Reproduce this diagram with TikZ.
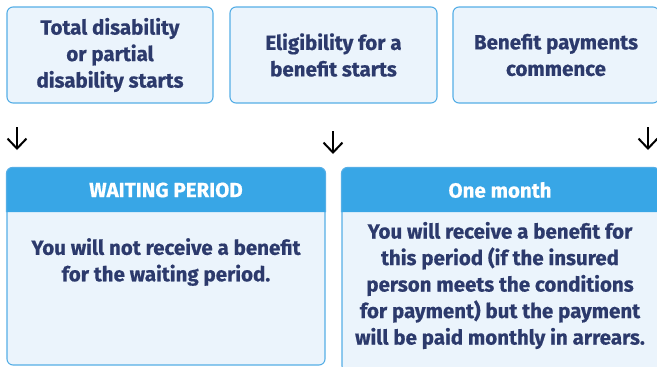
\documentclass[tikz,border=0pt]{standalone}
\usepackage{fontspec}
\setmainfont{Fira Sans}[BoldFeatures={FakeBold=0.6}]
\usetikzlibrary{arrows.meta}
\definecolor{boxfill}{HTML}{EBF4FC}
\definecolor{boxline}{HTML}{55AEE6}
\definecolor{hdrfill}{HTML}{38A6E6}
\definecolor{navy}{HTML}{2C3A6C}
\begin{document}
\begin{tikzpicture}[x=1pt,y=-1pt,
  txt/.style={font=\fontsize{20.5}{26.5}\selectfont\bfseries, text=navy, align=center},
  topbox/.style={draw=boxline, fill=boxfill, line width=1.1pt, rounded corners=6pt,
     minimum height=96pt, inner sep=0pt, txt},
  botbox/.style={draw=boxline, fill=boxfill, line width=1.1pt, rounded corners=6pt, inner sep=0pt},
  hdrtxt/.style={font=\fontsize{20.5}{26}\selectfont\bfseries, text=white},
  arr/.style={-{Straight Barb[length=10pt,width=19pt,line width=2pt]}, line width=2pt, black}]
\useasboundingbox (0,0) rectangle (657,367);
% top boxes
\node[topbox, minimum width=206pt] (t1) at (110,55) {Total disability\\or partial\\disability starts};
\node[topbox, minimum width=207pt] (t2) at (333.5,55) {Eligibility for a\\benefit starts};
\node[topbox, minimum width=206pt] (t3) at (556,55) {Benefit payments\\commence};
% arrows
\coordinate (a1s) at (17,127); \coordinate (a1e) at (17,150);
\coordinate (a2s) at (333,131); \coordinate (a2e) at (333,154);
\coordinate (a3s) at (648,127); \coordinate (a3e) at (648,150);
\draw[arr] (a1s) -- (a1e);
\draw[arr] (a2s) -- (a2e);
\draw[arr] (a3s) -- (a3e);
% bottom left box
\node[botbox, minimum width=318pt, minimum height=197pt] (b1) at (166,266.5) {};
\coordinate (h1) at (0,212);
\fill[hdrfill] (b1.west |- h1) [rounded corners=6pt] -- (b1.north west) -- (b1.north east) [sharp corners] -- (b1.east |- h1) -- cycle;
\draw[boxline, line width=1.1pt, rounded corners=6pt] (b1.west |- h1) -- (b1.north west) -- (b1.north east) -- (b1.east |- h1);
\node[hdrtxt] (h1t) at (166,190) {WAITING PERIOD};
\node[txt] (b1t) at (166,262) {You will not receive a benefit\\for the waiting period.};
% bottom right box
\node[botbox, minimum width=317pt, minimum height=204pt] (b2) at (500.5,270) {};
\fill[hdrfill] (b2.west |- h1) [rounded corners=6pt] -- (b2.north west) -- (b2.north east) [sharp corners] -- (b2.east |- h1) -- cycle;
\draw[boxline, line width=1.1pt, rounded corners=6pt] (b2.west |- h1) -- (b2.north west) -- (b2.north east) -- (b2.east |- h1);
\node[hdrtxt] (h2t) at (500,190) {One month};
\node[txt] (b2t) at (500,285.5) {You will receive a benefit for\\this period (if the insured\\person meets the conditions\\for payment) but the payment\\will be paid monthly in arrears.};
\end{tikzpicture}
\end{document}
